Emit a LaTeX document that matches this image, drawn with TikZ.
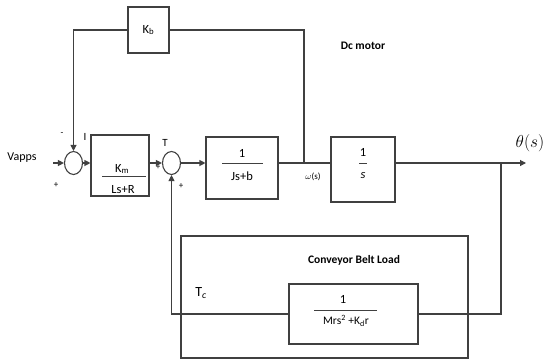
\documentclass[tikz,border=0pt]{standalone}
\usepackage{fontspec}
\setmainfont{Carlito}
\usetikzlibrary{arrows.meta,shapes.geometric,calc}
\definecolor{ln}{HTML}{404040}
\begin{document}
\begin{tikzpicture}[x=1pt,y=-1pt,
  line width=1.1pt, draw=ln,
  blk/.style={draw=ln,line width=1.1pt,rectangle,inner sep=0pt},
  sumj/.style={draw=ln,line width=1.1pt,ellipse,inner sep=0pt,minimum width=18pt,minimum height=23pt},
  arr/.style={-{Triangle[length=6pt,width=6pt]}},
  lbl/.style={font=\fontsize{11}{12}\selectfont,inner sep=0pt},
  sml/.style={font=\fontsize{9}{10}\selectfont,inner sep=0pt},
  frac/.style={font=\fontsize{12.5}{14}\selectfont,inner sep=0pt},
  ttl/.style={font=\fontsize{11.5}{13}\selectfont\bfseries,inner sep=0pt}]
\useasboundingbox (0,0) rectangle (546,362);
% blocks
\node[blk,minimum width=41pt,minimum height=46pt] (kb) at (148.5,30) {};
\node[frac] at (kb) {K\textsubscript{b}};
\node[sumj] (s1) at (73.5,163) {};
\node[blk,minimum width=58pt,minimum height=61pt] (km) at (120,165.5) {};
\node[sumj] (s2) at (171.5,163) {};
\node[blk,minimum width=72pt,minimum height=62pt] (jsb) at (242,168) {};
\node[blk,minimum width=64pt,minimum height=65pt] (int) at (363,169.5) {};
\node[blk,minimum width=287pt,minimum height=122pt] (load) at (324.5,297) {};
\node[blk,minimum width=129pt,minimum height=60pt] (ml) at (353.5,314) {};
% fraction contents
\node[frac] (kmn) at (122,169) {K\textsubscript{m}};
\draw[line width=0.9pt] (102,176) -- (146,176);
\node[frac] (kmd) at (123,190) {Ls+R};
\node[frac] at (242,153) {1};
\draw[line width=0.9pt] (222,163) -- (263,163);
\node[frac] at (242,176) {Js+b};
\node[frac] at (363,152) {1};
\draw[line width=0.9pt] (359,163) -- (367,163);
\node[frac] at (363,176) {\textit{s}};
\node[frac] at (343,299) {1};
\draw[line width=0.9pt] (314,310) -- (377,310);
\node[frac,font=\fontsize{11.5}{13}\selectfont] at (346,321) {Mrs\textsuperscript{2} +K\textsubscript{d}r};
% labels
\node[lbl,font=\fontsize{12}{13}\selectfont] (vapps) at (22,158) {Vapps};
\node[ttl] (dcm) at (363,46) {Dc motor};
\node[ttl] (cbl) at (354,260) {Conveyor Belt Load};
\node[sml] at (62,134) {-};
\node[sml] at (56,185) {+};
\node[lbl] at (85,137) {I};
\node[lbl] at (165,143) {T};
\node[sml] at (158,167) {+};
\node[sml] at (181,186) {+};
\node[sml] at (313,177) {$\omega$(s)};
\node[inner sep=0pt,font=\fontsize{14}{15}\selectfont] at (201,293) {T\textsubscript{\textit{c}}};
\node[inner sep=0pt,font=\fontsize{17}{19}\selectfont] (th) at (530,143) {$\theta(s)$};
% coordinates
\coordinate (vin) at (53,163);
\coordinate (w) at (304,163);
\coordinate (out) at (526,163);
\coordinate (br) at (501,163);
% connectors
\draw[arr] (vin) -- (s1.west);
\draw[arr] (s1.east) -- (s1.east -| km.west);
\draw[arr] (s1.east -| km.east) -- (s2.west);
\draw[arr] (s2.east) -- (s2.east -| jsb.west);
\draw (s2.east -| jsb.east) -- (s2.east -| int.west);
\draw[arr] (s2.east -| int.east) -- (out);
\draw (w) -- (w |- kb.east) -- (kb.east);
\draw[arr] (kb.west) -- (s1.north |- kb.west) -- (s1.north);
\draw (br) -- (br |- ml.east) -- (ml.east);
\draw[arr] (ml.west) -- (ml.west -| s2.south) -- (s2.south);
\end{tikzpicture}
\end{document}
